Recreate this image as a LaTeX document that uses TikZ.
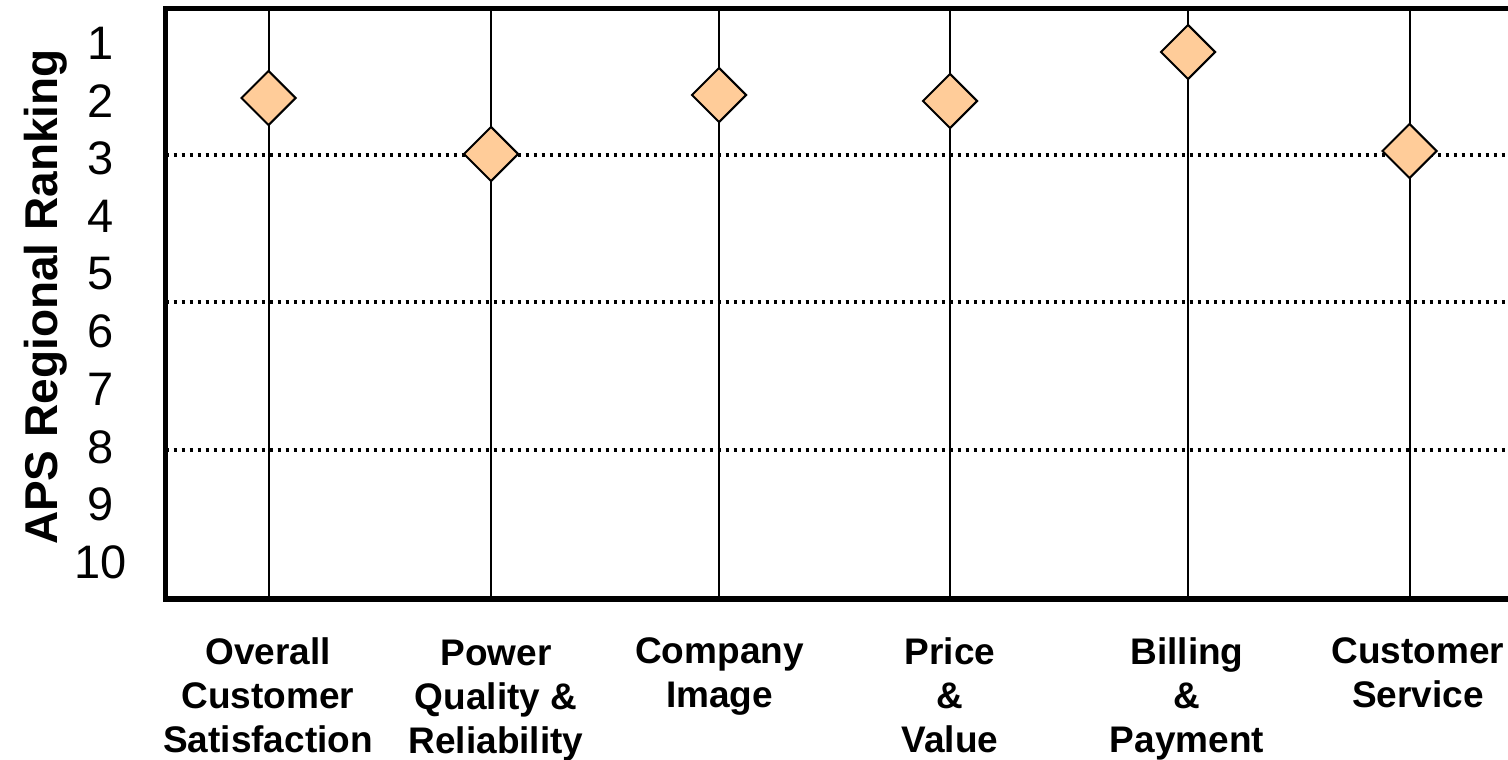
\documentclass[tikz,border=0pt]{standalone}
\usepackage{fontspec}
\setmainfont{Liberation Sans}
\usetikzlibrary{shapes.geometric}
\definecolor{peach}{HTML}{FFCC99}
\begin{document}
\begin{tikzpicture}[x=1pt,y=-1pt,
  framebox/.style={line width=5.5pt},
  stem/.style={line width=2pt},
  griddots/.style={line width=3.5pt, dash pattern=on 3.5pt off 4.5pt},
  marker/.style={diamond, draw, line width=2pt, fill=peach, minimum width=55pt, minimum height=55pt, inner sep=0pt},
  ticklab/.style={font=\fontsize{47}{56}\selectfont, inner sep=0pt},
  catlab/.style={font=\bfseries\fontsize{37}{44}\selectfont, align=center, anchor=north, inner sep=0pt},
  axislab/.style={font=\bfseries\fontsize{46}{55}\selectfont, rotate=90, anchor=base, inner sep=0pt}]
\useasboundingbox (0,0) rectangle (1508,760);
\fill[white] (0,0) rectangle (1508,760);
% grid lines
\foreach \n/\y in {a/155,b/302,c/450}{
  \coordinate (g\n l) at (165.5,\y);
  \coordinate (g\n r) at (1508,\y);
  \draw[griddots] (g\n l) -- (g\n r);
}
% stems
\foreach \i/\x in {1/268.5,2/491,3/719,4/950,5/1188,6/1409.5}{
  \coordinate (t\i) at (\x,8.5);
  \coordinate (b\i) at (\x,599);
  \draw[stem] (t\i) -- (b\i);
}
% frame
\draw[framebox] (165.5,8.5) rectangle (1516,599);
% markers
\node[marker] (d1) at (268.5,98) {};
\node[marker] (d2) at (491,154) {};
\node[marker] (d3) at (719,95) {};
\node[marker] (d4) at (950,101) {};
\node[marker] (d5) at (1188,52) {};
\node[marker] (d6) at (1409.5,151) {};
% tick labels
\foreach \k in {1,...,10}{
  \node[ticklab] (r\k) at (101,{43+57.7*(\k-1)}) {\k};
}
% axis label
\node[axislab] (ylab) at (57,297) {APS Regional Ranking};
% category labels
\node[catlab] (c1) at (268,637) {Overall\\Customer\\Satisfaction};
\node[catlab] (c2) at (496,640) {Power\\Quality \&\\Reliability};
\node[catlab] (c3) at (719.5,637) {Company\\Image};
\node[catlab] (c4) at (950,637) {Price\\\&\\Value};
\node[catlab] (c5) at (1187,637) {Billing\\\&\\Payment};
\node[catlab] (c6) at (1418,637) {Customer\\Service};
\end{tikzpicture}
\end{document}
